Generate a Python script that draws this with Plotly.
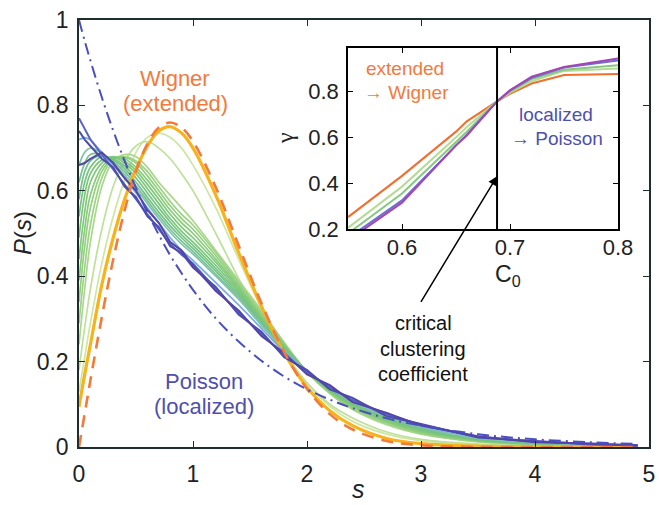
import plotly.graph_objects as go

# ---------------- data ----------------
s = [0, 0.05, 0.1, 0.2, 0.3, 0.4, 0.5, 0.6, 0.7, 0.8, 0.9, 1.0, 1.2, 1.4, 1.6,
     1.8, 2.0, 2.2, 2.4, 2.7, 3.0, 3.5, 4.0, 4.5, 4.9]

wigner = [0, 0.078, 0.156, 0.304, 0.439, 0.554, 0.646, 0.710, 0.748, 0.760, 0.748,
          0.716, 0.608, 0.472, 0.337, 0.222, 0.136, 0.077, 0.041, 0.014, 0.004,
          0.0004, 0.0, 0.0, 0.0]
poisson = [1.0, 0.951, 0.905, 0.819, 0.741, 0.670, 0.607, 0.549, 0.497, 0.449, 0.407,
           0.368, 0.301, 0.247, 0.202, 0.165, 0.135, 0.111, 0.091, 0.067, 0.050,
           0.030, 0.018, 0.011, 0.007]

yellow = [0.094, 0.17, 0.24, 0.38, 0.49, 0.58, 0.65, 0.705, 0.74, 0.75, 0.735, 0.70,
          0.59, 0.455, 0.33, 0.22, 0.14, 0.085, 0.05, 0.02, 0.008, 0.002, 0.001, 0.0, 0.0]

green_curves = [
    [0.13, 0.21, 0.29, 0.43, 0.54, 0.625, 0.69, 0.725, 0.735, 0.725, 0.70, 0.66, 0.56,
     0.44, 0.325, 0.225, 0.15, 0.095, 0.06, 0.03, 0.015, 0.005, 0.002, 0.001, 0.0],
    [0.18, 0.28, 0.37, 0.51, 0.61, 0.67, 0.705, 0.715, 0.70, 0.675, 0.64, 0.60, 0.50,
     0.395, 0.30, 0.215, 0.15, 0.10, 0.068, 0.035, 0.018, 0.007, 0.003, 0.001, 0.0],
    [0.24, 0.37, 0.48, 0.61, 0.67, 0.685, 0.68, 0.655, 0.62, 0.59, 0.56, 0.53, 0.46,
     0.39, 0.32, 0.245, 0.175, 0.125, 0.088, 0.052, 0.03, 0.012, 0.005, 0.002, 0.001],
    [0.29, 0.42, 0.52, 0.63, 0.675, 0.68, 0.67, 0.645, 0.61, 0.575, 0.545, 0.52, 0.455,
     0.385, 0.315, 0.243, 0.176, 0.127, 0.09, 0.055, 0.032, 0.013, 0.006, 0.003, 0.001],
    [0.34, 0.47, 0.56, 0.645, 0.675, 0.678, 0.665, 0.635, 0.60, 0.565, 0.535, 0.51, 0.448,
     0.38, 0.31, 0.24, 0.177, 0.128, 0.093, 0.058, 0.034, 0.014, 0.007, 0.003, 0.002],
    [0.39, 0.51, 0.59, 0.655, 0.677, 0.675, 0.655, 0.625, 0.59, 0.555, 0.525, 0.50, 0.44,
     0.375, 0.306, 0.238, 0.177, 0.13, 0.095, 0.06, 0.036, 0.015, 0.007, 0.004, 0.002],
    [0.44, 0.55, 0.62, 0.665, 0.68, 0.67, 0.648, 0.615, 0.58, 0.545, 0.515, 0.49, 0.433,
     0.37, 0.302, 0.236, 0.178, 0.132, 0.097, 0.062, 0.038, 0.016, 0.008, 0.004, 0.002],
    [0.49, 0.59, 0.64, 0.672, 0.678, 0.665, 0.64, 0.605, 0.57, 0.535, 0.505, 0.48, 0.425,
     0.365, 0.298, 0.234, 0.178, 0.134, 0.10, 0.065, 0.04, 0.017, 0.009, 0.005, 0.002],
    [0.54, 0.62, 0.655, 0.68, 0.675, 0.658, 0.63, 0.595, 0.56, 0.527, 0.497, 0.472, 0.418,
     0.36, 0.295, 0.232, 0.178, 0.135, 0.102, 0.067, 0.042, 0.018, 0.009, 0.005, 0.003],
    [0.58, 0.645, 0.67, 0.683, 0.672, 0.652, 0.62, 0.585, 0.55, 0.518, 0.49, 0.465, 0.412,
     0.355, 0.292, 0.23, 0.178, 0.136, 0.104, 0.069, 0.044, 0.019, 0.01, 0.005, 0.003],
    [0.62, 0.665, 0.685, 0.685, 0.668, 0.645, 0.612, 0.577, 0.542, 0.51, 0.482, 0.458, 0.405,
     0.35, 0.288, 0.228, 0.177, 0.137, 0.105, 0.07, 0.045, 0.02, 0.01, 0.006, 0.003],
    [0.66, 0.69, 0.70, 0.688, 0.664, 0.638, 0.605, 0.57, 0.535, 0.503, 0.475, 0.452, 0.40,
     0.346, 0.285, 0.226, 0.176, 0.138, 0.106, 0.072, 0.047, 0.021, 0.011, 0.006, 0.003],
]
green_colors = ["#cde6a4", "#bfe09a", "#a9d78b", "#9dd284", "#92cf7f", "#88cb7b",
                "#80c87a", "#7ac67b", "#76c47f", "#74c287", "#78c295", "#82c4aa"]

light_blue = [0.72, 0.725, 0.72, 0.69, 0.66, 0.63, 0.595, 0.56, 0.525, 0.49, 0.46, 0.437,
              0.385, 0.333, 0.278, 0.222, 0.176, 0.139, 0.108, 0.074, 0.049, 0.022,
              0.012, 0.006, 0.003]
blue1 = [0.77, 0.745, 0.72, 0.685, 0.65, 0.615, 0.58, 0.545, 0.51, 0.475, 0.45, 0.43,
         0.37, 0.315, 0.265, 0.215, 0.175, 0.14, 0.11, 0.077, 0.052, 0.024, 0.013, 0.007, 0.004]
blue2 = [0.74, 0.72, 0.705, 0.675, 0.655, 0.61, 0.585, 0.54, 0.515, 0.47, 0.455, 0.42,
         0.375, 0.31, 0.27, 0.21, 0.18, 0.135, 0.115, 0.072, 0.054, 0.022, 0.014, 0.006, 0.004]
blue3 = [0.66, 0.665, 0.675, 0.69, 0.665, 0.63, 0.60, 0.555, 0.525, 0.48, 0.46, 0.425,
         0.365, 0.32, 0.26, 0.22, 0.17, 0.145, 0.105, 0.08, 0.05, 0.025, 0.011, 0.008, 0.003]

# inset data
c0 = [0.55, 0.6, 0.65, 0.66, 0.688, 0.70, 0.72, 0.75, 0.8]
gamma_orange = [0.252, 0.432, 0.625, 0.67, 0.757, 0.79, 0.835, 0.872, 0.877]
gamma_lgreen = [0.205, 0.385, 0.60, 0.645, 0.757, 0.795, 0.845, 0.89, 0.90]
gamma_green = [0.18, 0.355, 0.58, 0.625, 0.757, 0.80, 0.855, 0.895, 0.915]
gamma_blue = [0.16, 0.325, 0.565, 0.612, 0.757, 0.805, 0.86, 0.905, 0.935]
gamma_purple = [0.15, 0.315, 0.565, 0.608, 0.757, 0.805, 0.865, 0.907, 0.944]
c_critical = 0.688

FONT = "Arial, Liberation Sans, Helvetica, sans-serif"
SERIF = "Times New Roman, Liberation Serif, serif"
ORANGE = "#f27a3c"
PURPLE_TXT = "#4f4fae"

fig = go.Figure()

for ys, col in zip(green_curves, green_colors):
    fig.add_trace(go.Scatter(x=s, y=ys, mode="lines", line=dict(color=col, width=1.7, shape="spline"),
                             showlegend=False, hoverinfo="skip"))
fig.add_trace(go.Scatter(x=s, y=yellow, mode="lines", line=dict(color="#f8b21a", width=3.2, shape="spline"),
                         showlegend=False))
fig.add_trace(go.Scatter(x=s, y=light_blue, mode="lines", line=dict(color="#7aaee0", width=1.8),
                         showlegend=False))
fig.add_trace(go.Scatter(x=s, y=blue1, mode="lines", line=dict(color="#5a62c4", width=2),
                         showlegend=False))
fig.add_trace(go.Scatter(x=s, y=blue2, mode="lines", line=dict(color="#4c4cae", width=2),
                         showlegend=False))
fig.add_trace(go.Scatter(x=s, y=blue3, mode="lines", line=dict(color="#5544a8", width=2),
                         showlegend=False))
fig.add_trace(go.Scatter(x=s, y=wigner, mode="lines",
                         line=dict(color=ORANGE, width=2.6, dash="12px,8px", shape="spline"),
                         showlegend=False))
fig.add_trace(go.Scatter(x=s, y=poisson, mode="lines",
                         line=dict(color="#4a4fc0", width=2, dash="12px,5px,2px,5px", shape="spline"),
                         showlegend=False))

# inset traces
for ys, col in [(gamma_orange, "#f26d2e"), (gamma_lgreen, "#b5dc95"), (gamma_green, "#86c882"),
                (gamma_blue, "#6a6fd0"), (gamma_purple, "#a545b5")]:
    fig.add_trace(go.Scatter(x=c0, y=ys, mode="lines", line=dict(color=col, width=2),
                             xaxis="x2", yaxis="y2", showlegend=False))
fig.add_trace(go.Scatter(x=[c_critical, c_critical], y=[0.2, 0.99], mode="lines",
                         line=dict(color="black", width=2), xaxis="x2", yaxis="y2", showlegend=False))

L, R, T, B = 79, 10, 20, 58
W, H = 659, 505
PW, PH = W - L - R, H - T - B


def px(x):
    return (x - L) / PW


def py(y):
    return (H - B - y) / PH


axis_common = dict(showline=True, linecolor="#1e2e2e", linewidth=1.5, mirror="ticks",
                   ticks="inside", ticklen=6, tickcolor="#1e2e2e", showgrid=False,
                   zeroline=False, automargin=False, tickfont=dict(family=FONT, size=23, color="#222"))
inset_common = dict(showline=True, linecolor="black", linewidth=1.5, mirror="ticks",
                    ticks="inside", ticklen=5, tickcolor="black", showgrid=False, zeroline=False,
                    automargin=False, tickfont=dict(family=FONT, size=22, color="#222"))

fig.update_layout(
    width=W, height=H, margin=dict(l=L, r=R, t=T, b=B, autoexpand=False),
    showlegend=False,
    plot_bgcolor="white", paper_bgcolor="white",
    xaxis=dict(range=[0, 5], tickvals=[0, 1, 2, 3, 4, 5], ticklabelstandoff=6, **axis_common),
    yaxis=dict(range=[0, 1], tickvals=[0, 0.2, 0.4, 0.6, 0.8, 1], ticktext=["0", "0.2", "0.4", "0.6", "0.8", "1"],
               ticklabelstandoff=4, **axis_common),
    xaxis2=dict(domain=[px(348), px(618)], anchor="y2", range=[0.55, 0.8],
                tickvals=[0.6, 0.7, 0.8], ticktext=["0.6", "0.7", "0.8"],
                ticklabelstandoff=-2, **inset_common),
    yaxis2=dict(domain=[py(229), py(48)], anchor="x2", range=[0.2, 0.99],
                tickvals=[0.2, 0.4, 0.6, 0.8], ticktext=["0.2", "0.4", "0.6", "0.8"],
                ticklabelstandoff=3, **inset_common),
)

ann = []


def text(x, y, t, size, color, family=FONT, **kw):
    ann.append(dict(x=px(x), y=py(y), xref="paper", yref="paper", text=t, showarrow=False,
                    font=dict(family=family, size=size, color=color), xanchor="center", yanchor="middle", **kw))


text(22, 233, "<i>P</i>(<i>s</i>)", 24, "#222", textangle=-90)
text(358, 489, "<i>s</i>", 25, "#222")
text(175, 78, "Wigner", 22, ORANGE)
text(175, 103, "(extended)", 22, ORANGE)
text(204, 381, "Poisson", 22, PURPLE_TXT)
text(204, 406, "(localized)", 22, PURPLE_TXT)
text(405, 68, "extended", 19, ORANGE)
text(406, 93, "\u2192 Wigner", 19, ORANGE)
text(556, 114, "localized", 19, PURPLE_TXT)
text(557, 138, "\u2192 Poisson", 19, PURPLE_TXT)
text(508, 275, "C<sub>0</sub>", 23, "#222")
text(285, 138, "\u03b3", 24, "#222", family=SERIF, textangle=-90)
text(423, 323, "critical", 20, "#111")
text(423, 349, "clustering", 20, "#111")
text(423, 374, "coefficient", 20, "#111")

ann.append(dict(x=c_critical, y=0.43, xref="x2", yref="y2", ax=-77, ay=127, axref="pixel", ayref="pixel",
                showarrow=True, arrowhead=2, arrowsize=1.2, arrowwidth=1.5, arrowcolor="black", text=""))

fig.update_layout(annotations=ann)

fig.write_html("out.html")
